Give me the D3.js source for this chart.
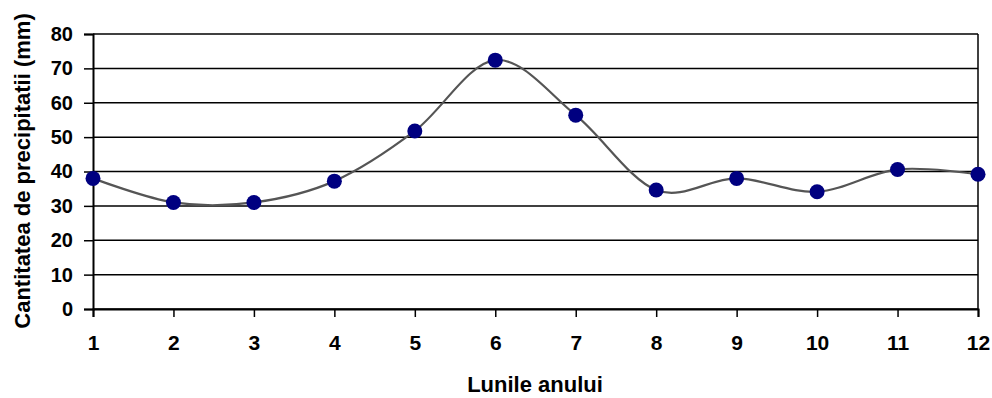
<!DOCTYPE html>
<html>
<head>
<meta charset="utf-8">
<script src="https://cdn.jsdelivr.net/npm/d3@7"></script>
<style>
  body { margin: 0; background: #fff; }
  text { font-family: "Liberation Sans", Arial, sans-serif; font-weight: bold; fill: #000; }
</style>
</head>
<body>
<div id="chart"></div>
<script>
var months = [1, 2, 3, 4, 5, 6, 7, 8, 9, 10, 11, 12];
var precip = [38, 31, 31, 37.2, 51.8, 72.4, 56.4, 34.6, 38, 34.1, 40.6, 39.2];
var yTicks = [0, 10, 20, 30, 40, 50, 60, 70, 80];

var width = 992,
    height = 398,
    margin = {top: 34, right: 14, bottom: 89, left: 93};

var svg = d3.select("#chart")
    .append("svg")
    .attr("width", width)
    .attr("height", height);

var x = d3.scaleLinear()
    .domain([1, 12])
    .range([margin.left, width - margin.right]);

var y = d3.scaleLinear()
    .domain([0, 80])
    .range([height - margin.bottom, margin.top]);

// horizontal grid
svg.append("g")
    .selectAll("line")
    .data(yTicks)
    .enter()
    .append("line")
    .attr("x1", margin.left)
    .attr("x2", width - margin.right)
    .attr("y1", function(d) { return y(d); })
    .attr("y2", function(d) { return y(d); })
    .style("stroke", "#000")
    .style("stroke-width", 1.5);

// right border
svg.append("line")
    .attr("x1", width - margin.right)
    .attr("x2", width - margin.right)
    .attr("y1", y(80))
    .attr("y2", y(0))
    .style("stroke", "#000")
    .style("stroke-width", 1.5);

// y axis
var yAxis = svg.append("g")
    .attr("transform", "translate(" + margin.left + ",0)")
    .call(d3.axisLeft(y).tickValues(yTicks).tickSize(9).tickPadding(11));
yAxis.selectAll("text").style("font-size", "20px");

// x axis
var xAxis = svg.append("g")
    .attr("transform", "translate(0," + y(0) + ")")
    .call(d3.axisBottom(x).tickValues(months).tickFormat(d3.format("d")).tickSize(8).tickPadding(18));
xAxis.selectAll("text").style("font-size", "21px");

svg.selectAll(".domain, .tick line")
    .style("stroke", "#000")
    .style("stroke-width", 1.5);
svg.selectAll(".domain").style("stroke-width", 2);

// smoothed line
var line = d3.line()
    .x(function(d, i) { return x(months[i]); })
    .y(function(d) { return y(d); })
    .curve(d3.curveCatmullRom.alpha(0));

svg.append("path")
    .datum(precip)
    .attr("d", line)
    .style("fill", "none")
    .style("stroke", "#555")
    .style("stroke-width", 2.2);

svg.append("g")
    .selectAll("circle")
    .data(precip)
    .enter()
    .append("circle")
    .attr("cx", function(d, i) { return x(months[i]); })
    .attr("cy", function(d) { return y(d); })
    .attr("r", 7.5)
    .style("fill", "#000080");

// axis titles
svg.append("text")
    .attr("transform", "translate(30," + 171 + ") rotate(-90)")
    .style("text-anchor", "middle")
    .style("font-size", "22px")
    .text("Cantitatea de precipitatii (mm)");

svg.append("text")
    .attr("x", 535)
    .attr("y", 392)
    .style("text-anchor", "middle")
    .style("font-size", "22px")
    .text("Lunile anului");
</script>
</body>
</html>
